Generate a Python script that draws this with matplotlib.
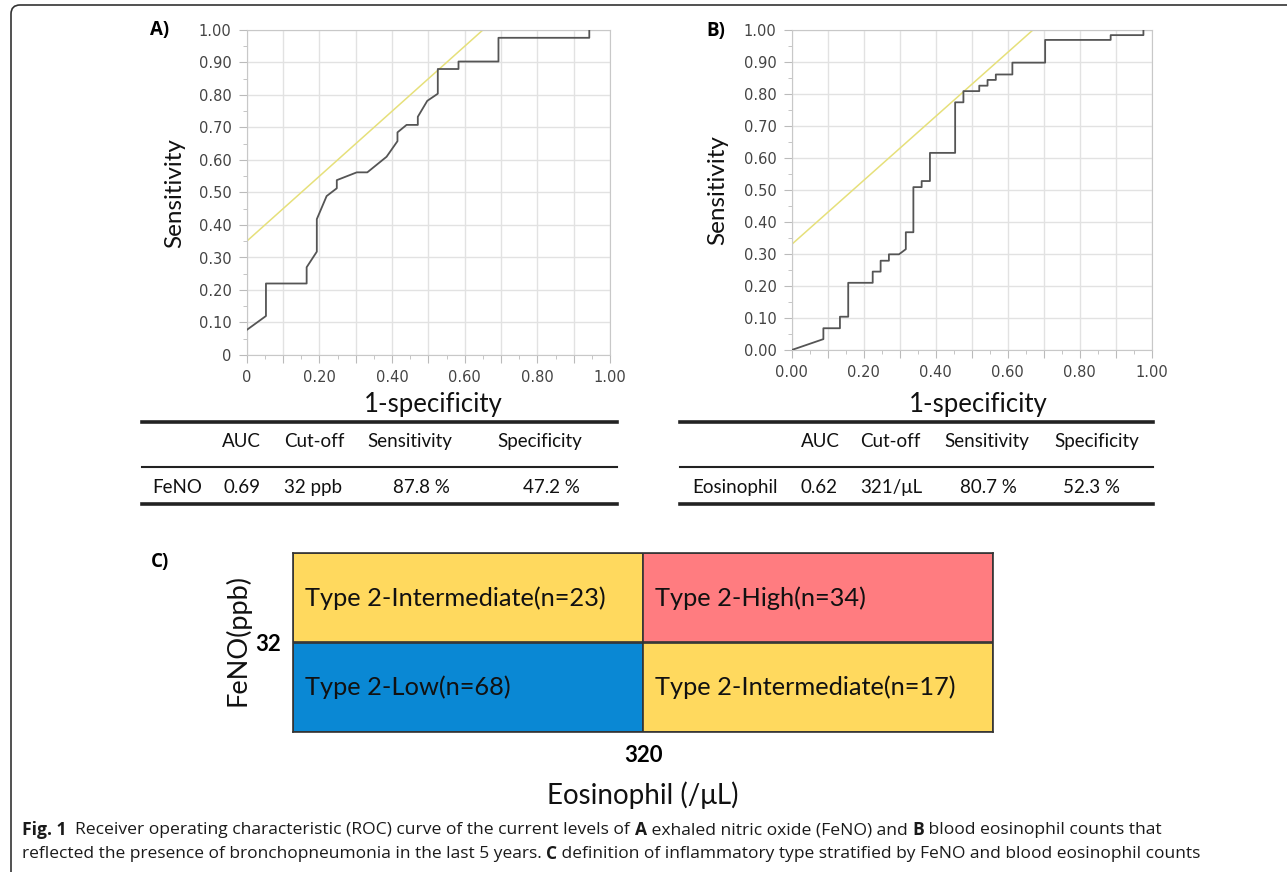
import numpy as np
import matplotlib
matplotlib.use("Agg")
import matplotlib.pyplot as plt
import matplotlib.transforms as mtransforms
from matplotlib.patches import FancyBboxPatch
from matplotlib.lines import Line2D

# ROC curve A: FeNO
feno_fpr = [0, 0.053, 0.053, 0.165, 0.165, 0.193, 0.193, 0.22, 0.248, 0.248,
            0.303, 0.332, 0.385, 0.415, 0.415, 0.44, 0.471, 0.471, 0.497, 0.526,
            0.526, 0.583, 0.583, 0.693, 0.693, 0.943, 0.943]
feno_tpr = [0.077, 0.12, 0.22, 0.22, 0.27, 0.318, 0.418, 0.489, 0.513, 0.538,
            0.562, 0.562, 0.61, 0.658, 0.685, 0.708, 0.708, 0.733, 0.782, 0.804,
            0.88, 0.88, 0.903, 0.903, 0.976, 0.976, 1.0]
feno_tangent = 0.35

# ROC curve B: eosinophil
eos_fpr = [0, 0.088, 0.088, 0.134, 0.134, 0.157, 0.157, 0.225, 0.225, 0.247,
           0.247, 0.27, 0.27, 0.298, 0.317, 0.317, 0.338, 0.338, 0.361, 0.361,
           0.384, 0.384, 0.454, 0.454, 0.477, 0.477, 0.521, 0.521, 0.544, 0.544,
           0.567, 0.567, 0.613, 0.613, 0.704, 0.704, 0.886, 0.886, 0.977, 0.977]
eos_tpr = [0, 0.034, 0.068, 0.068, 0.104, 0.104, 0.21, 0.21, 0.245, 0.245,
           0.279, 0.279, 0.299, 0.299, 0.315, 0.368, 0.368, 0.509, 0.509, 0.528,
           0.528, 0.616, 0.616, 0.774, 0.774, 0.809, 0.809, 0.826, 0.826, 0.844,
           0.844, 0.861, 0.861, 0.898, 0.898, 0.969, 0.969, 0.984, 0.984, 1.0]
eos_tangent = 0.33

# tables under the ROC plots
table_header = ["AUC", "Cut-off", "Sensitivity", "Specificity"]
feno_row = ["FeNO", "0.69", "32 ppb", "87.8 %", "47.2 %"]
eos_row = ["Eosinophil", "0.62", "321/\u03bcL", "80.7 %", "52.3 %"]

# panel C: 2x2 grid (col, row) -> label
cell_cols = [0, 1, 0, 1]
cell_rows = [1, 1, 0, 0]
cell_labels = ["Type 2-Intermediate(n=23)", "Type 2-High(n=34)",
               "Type 2-Low(n=68)", "Type 2-Intermediate(n=17)"]
cell_colors = ["#FFD95E", "#FF7C80", "#0A88D4", "#FFD95E"]
feno_cut = "32"
eos_cut = "320"

W, H = 1287, 872
fig = plt.figure(figsize=(W / 100, H / 100), dpi=100)

def fx(px):
    return px / W

def fy(py):
    return 1 - py / H

def px_axes(x0, y0, x1, y1):
    return fig.add_axes([fx(x0), fy(y1), fx(x1 - x0), (y1 - y0) / H])

LABEL_FONT = ["Lato", "DejaVu Sans"]
TICK_FONT = ["DejaVu Sans"]

def roc_panel(ax, fpr, tpr, tangent, zero_label):
    ax.set_xlim(0, 1)
    ax.set_ylim(0, 1)
    ax.plot(fpr, tpr, color="#555555", lw=1.3, zorder=3)
    ax.axline((0, tangent), slope=1, color="#E6E07A", lw=1.1, zorder=2)
    ticks = np.arange(0, 1.01, 0.1)
    ax.set_xticks(ticks)
    ax.set_xticklabels([(zero_label if i == 0 else f"{v:.2f}") if i % 2 == 0 else ""
                        for i, v in enumerate(ticks)])
    ax.set_yticks(ticks)
    ax.set_yticklabels([zero_label if i == 0 else f"{v:.2f}"
                        for i, v in enumerate(ticks)])
    ax.set_xticks(np.arange(0.05, 1, 0.1), minor=True)
    ax.set_yticks(np.arange(0.05, 1, 0.1), minor=True)
    ax.grid(True, which="major", color="#E2E2E2", lw=1.0)
    ax.set_axisbelow(True)
    for s in ax.spines.values():
        s.set_color("#C8C8C8")
    ax.tick_params(which="major", length=6, color="#BBBBBB", labelsize=10.5,
                   labelcolor="#444444", pad=5)
    ax.tick_params(which="minor", length=3, color="#BBBBBB")
    for lab in ax.get_xticklabels() + ax.get_yticklabels():
        lab.set_family(TICK_FONT)

axA = px_axes(246.7, 30, 610, 355)
roc_panel(axA, feno_fpr, feno_tpr, feno_tangent, "0")
axB = px_axes(791.7, 30, 1151.7, 350)
roc_panel(axB, eos_fpr, eos_tpr, eos_tangent, "0.00")

for (x, y, t) in [(175, 193, "Sensitivity"), (718, 190, "Sensitivity")]:
    fig.text(fx(x), fy(y), t, rotation=90, ha="center", va="center",
             fontsize=17.5, family=LABEL_FONT, color="#111111")
for (x, t) in [(433, "1-specificity"), (978, "1-specificity")]:
    fig.text(fx(x), fy(404), t, ha="center", va="center",
             fontsize=18.5, family=LABEL_FONT, color="#111111")

for (x, y, t) in [(160, 30, "A)"), (716, 31, "B)"), (160, 562, "C)")]:
    fig.text(fx(x), fy(y), t, ha="center", va="center", fontsize=13.5,
             fontweight="bold", family=["Open Sans", "DejaVu Sans"])

# tables
def draw_table(x0, x1, row, row_x, head_x, col_x):
    for y, lw in [(422, 2.6), (467.5, 1.5), (504, 2.6)]:
        fig.add_artist(Line2D([fx(x0), fx(x1)], [fy(y), fy(y)], lw=lw, color="#222222"))
    for h, x in zip(table_header, head_x):
        fig.text(fx(x), fy(441), h, ha="center", va="center", fontsize=13.5,
                 family=LABEL_FONT, color="#111111")
    for v, x in zip(row, [row_x] + list(col_x)):
        fig.text(fx(x), fy(487), v, ha="center", va="center", fontsize=13.5,
                 family=LABEL_FONT, color="#111111")

draw_table(142, 617, feno_row, 176.7, [241.7, 314, 410, 540], [241.7, 313, 421.7, 551.7])
draw_table(680, 1153, eos_row, 735, [820, 890.7, 986.7, 1097], [819, 891.7, 988, 1091.7])

# panel C
axC = px_axes(293, 553, 993, 732)
axC.bar(cell_cols, [1] * 4, width=1, bottom=cell_rows, align="edge",
        color=cell_colors, edgecolor="#333333", lw=1.2)
for c, r, lab in zip(cell_cols, cell_rows, cell_labels):
    axC.text(c + 0.033, r + 0.5, lab, ha="left", va="center", fontsize=18.3,
             family=LABEL_FONT, color="#111111")
axC.set_xlim(0, 2)
axC.set_ylim(0, 2)
axC.set_xticks([1])
axC.set_xticklabels([eos_cut])
axC.set_yticks([1])
axC.set_yticklabels([feno_cut])
axC.tick_params(length=0, labelsize=16, pad=9)
for lab in axC.get_xticklabels() + axC.get_yticklabels():
    lab.set_fontweight("bold")
    lab.set_family(LABEL_FONT)
for s in axC.spines.values():
    s.set_color("#333333")
    s.set_linewidth(1.2)
fig.text(fx(237), fy(640), "FeNO(ppb)", rotation=90, ha="center", va="center",
         fontsize=19.5, family=LABEL_FONT, color="#111111")
fig.text(fx(643), fy(795), "Eosinophil (/\u03bcL)", ha="center", va="center",
         fontsize=20, family=LABEL_FONT, color="#111111")

# caption with bold segments
CAP_FONT = ["Open Sans", "DejaVu Sans"]
renderer = fig.canvas.get_renderer()

def rich_line(x, y, parts, size):
    for txt, bold in parts:
        t = fig.text(fx(x), fy(y), txt, ha="left", va="center", fontsize=size,
                     family=CAP_FONT, fontweight="bold" if bold else "normal",
                     color="#1a1a1a")
        x += t.get_window_extent(renderer).width

cap1 = [("Fig. 1", True), ("  Receiver operating characteristic (ROC) curve of the current levels of ", False),
        ("A", True), (" exhaled nitric oxide (FeNO) and ", False), ("B", True),
        (" blood eosinophil counts that", False)]
cap2 = [("reflected the presence of bronchopneumonia in the last 5 years. ", False), ("C", True),
        (" definition of inflammatory type stratified by FeNO and blood eosinophil counts", False)]
rich_line(22, 830, cap1, 12.6)
rich_line(22, 854, cap2, 12.5)

# page frame, only the top-left rounded corner is visible
frame = FancyBboxPatch((11, -50), W + 100, H - 5 + 50,
                       boxstyle="round,pad=0,rounding_size=9",
                       transform=mtransforms.IdentityTransform(),
                       fill=False, edgecolor="#333333", lw=1.2)
fig.add_artist(frame)

fig.savefig("out.png", dpi=100)
